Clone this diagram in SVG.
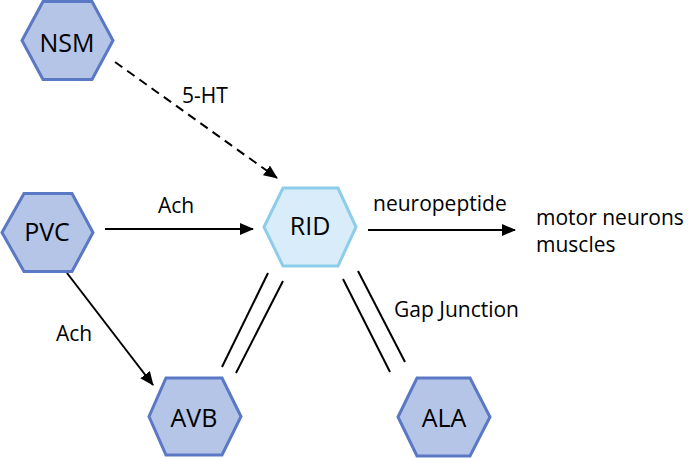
<svg xmlns="http://www.w3.org/2000/svg" width="688" height="458" viewBox="0 0 688 458">
<style>
.hex{fill:#b4c5e8;stroke:#5a78c4;stroke-width:3;stroke-linejoin:miter}
.hexl{fill:#d8edf9;stroke:#8ecde9;stroke-width:3}
.nl{font-family:"Open Sans","Liberation Sans",sans-serif;font-size:25px;fill:#000;text-anchor:middle}
.el{font-family:"Open Sans","Liberation Sans",sans-serif;font-size:21px;fill:#000}
.ln{stroke:#000;stroke-width:2;fill:none}
</style>
<defs>
<marker id="ah" markerUnits="userSpaceOnUse" markerWidth="14" markerHeight="12" refX="13" refY="6" orient="auto">
<path d="M0,0 L14,6 L0,12 Z" fill="#000"/>
</marker>
</defs>
<rect width="688" height="458" fill="#fff"/>
<g id="connectors">
<line class="ln" x1="115" y1="62" x2="277" y2="178" stroke-dasharray="9,6" marker-end="url(#ah)"/>
<line class="ln" x1="105" y1="229" x2="253" y2="229" marker-end="url(#ah)"/>
<line class="ln" x1="67" y1="273" x2="153" y2="385" marker-end="url(#ah)"/>
<line class="ln" x1="368" y1="230" x2="515" y2="230" marker-end="url(#ah)"/>
<line class="ln" x1="268" y1="273" x2="222" y2="367"/>
<line class="ln" x1="283" y1="281" x2="236" y2="373"/>
<line class="ln" x1="343" y1="279" x2="390" y2="372"/>
<line class="ln" x1="358" y1="271" x2="405" y2="362"/>
<text class="el" x="182" y="103">5-HT</text>
<text class="el" x="158" y="213">Ach</text>
<text class="el" x="56" y="341">Ach</text>
<text class="el" x="373" y="211">neuropeptide</text>
<text class="el" x="394" y="317">Gap Junction</text>
</g>
<g id="NSM">
<polygon class="hex" points="22,40.5 43,1.5 92,1.5 113,40.5 92,79.5 43,79.5"/>
<text class="nl" x="67" y="52">NSM</text>
</g>
<g id="PVC">
<polygon class="hex" points="2,232.5 24,193.5 72,193.5 93,232.5 72,271.5 24,271.5"/>
<text class="nl" x="47" y="241">PVC</text>
</g>
<g id="RID">
<polygon class="hexl" points="264,227 283,188 338,188 356,227 338,266 283,266"/>
<text class="nl" x="310" y="235">RID</text>
</g>
<g id="AVB">
<polygon class="hex" points="149,416.5 166,378 222,378 241,416.5 222,455 166,455"/>
<text class="nl" x="194" y="427">AVB</text>
</g>
<g id="ALA">
<polygon class="hex" points="398,417 417,378 470,378 490,417 470,456 417,456"/>
<text class="nl" x="444" y="427">ALA</text>
</g>
<g id="targets">
<text class="el" x="536" y="225">motor neurons</text>
<text class="el" x="536" y="252">muscles</text>
</g>
</svg>
